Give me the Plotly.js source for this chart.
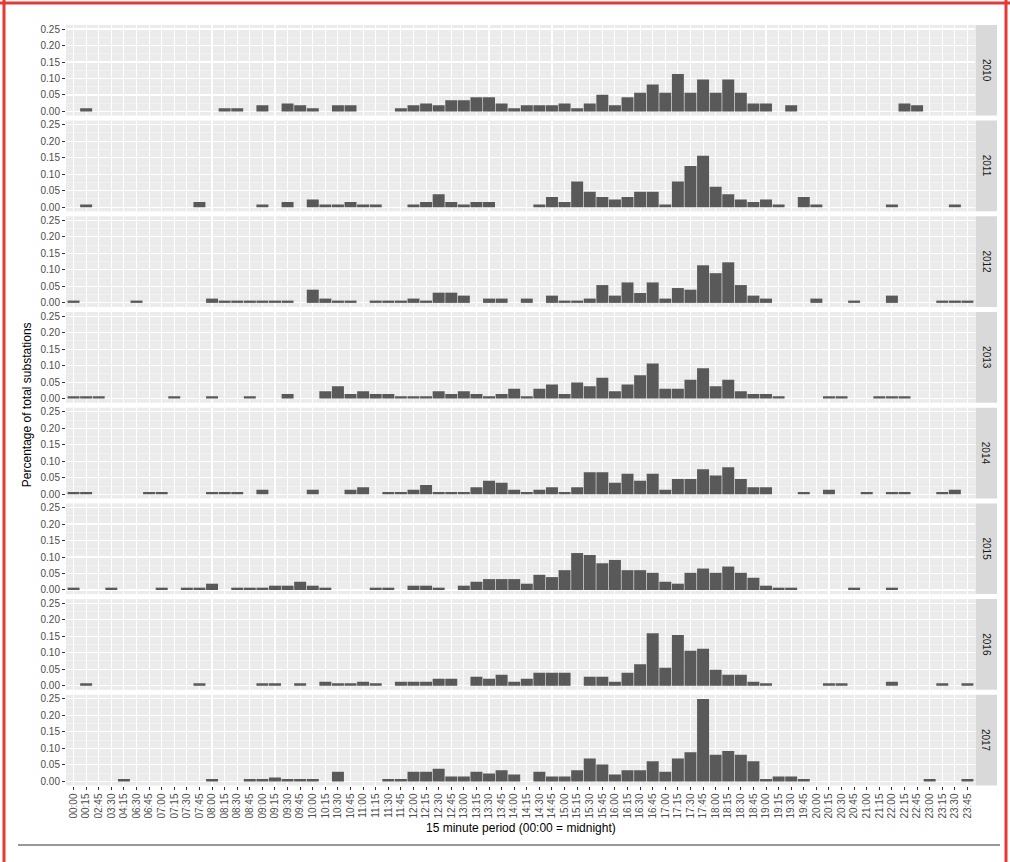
<!DOCTYPE html>
<html><head><meta charset="utf-8">
<script src="https://cdn.plot.ly/plotly-3.0.1.min.js"></script>
<style>html,body{margin:0;padding:0;background:#fff}#chart{width:1010px;height:862px}</style>
</head><body><div id="chart"></div>
<script>
const periods = [
 "00:00","00:15","02:45","03:30","04:15","06:30","06:45","07:00","07:15","07:30","07:45","08:00",
 "08:15","08:30","08:45","09:00","09:15","09:30","09:45","10:00","10:15","10:30","10:45","11:00",
 "11:15","11:30","11:45","12:00","12:15","12:30","12:45","13:00","13:15","13:30","13:45","14:00",
 "14:15","14:30","14:45","15:00","15:15","15:30","15:45","16:00","16:15","16:30","16:45","17:00",
 "17:15","17:30","17:45","18:00","18:15","18:30","18:45","19:00","19:15","19:30","19:45","20:00",
 "20:15","20:30","20:45","21:00","21:15","22:00","22:15","22:45","23:00","23:15","23:30","23:45"];
const years = ["2010","2011","2012","2013","2014","2015","2016","2017"];
const y2010 = [0,.010,0,0,0,0,0,0,0,0,0,0,
 .010,.010,0,.019,0,.024,.019,.010,0,.019,.019,0,
 0,0,.010,.019,.024,.019,.034,.034,.043,.043,.024,.010,
 .019,.019,.019,.024,.010,.024,.051,.019,.043,.057,.082,.057,
 .114,.057,.097,.057,.097,.057,.024,.024,0,.019,0,0,
 0,0,0,0,0,0,.024,.019,0,0,0,0];
const y2011 = [0,.008,0,0,0,0,0,0,0,0,.016,0,
 0,0,0,.008,0,.016,0,.023,.008,.008,.016,.008,
 .008,0,0,.008,.016,.039,.016,.008,.016,.016,0,0,
 0,.008,.031,.016,.078,.047,.031,.023,.031,.047,.047,.008,
 .078,.125,.156,.062,.039,.023,.016,.023,.008,0,.031,.008,
 0,0,0,0,0,.008,0,0,0,0,.008,0];
const y2012 = [.007,0,0,0,0,.007,0,0,0,0,0,.013,
 .007,.007,.007,.007,.007,.007,0,.040,.013,.007,.007,0,
 .007,.007,.007,.013,.007,.031,.031,.022,0,.013,.013,0,
 .013,0,.022,.007,.007,.013,.054,.022,.062,.030,.062,.013,
 .045,.040,.114,.090,.123,.054,.022,.013,0,0,0,.013,
 0,0,.007,0,0,.022,0,0,0,.007,.007,.007];
const y2013 = [.007,.007,.007,0,0,0,0,0,.007,0,0,.007,
 0,0,.007,0,0,.014,0,0,.022,.037,.014,.022,
 .014,.014,.007,.007,.007,.022,.014,.022,.014,.007,.014,.030,
 .007,.030,.043,.014,.049,.037,.063,.022,.043,.071,.106,.030,
 .030,.057,.092,.037,.057,.022,.014,.014,.007,0,0,0,
 .007,.007,0,0,.007,.007,.007,0,0,0,0,0];
const y2014 = [.007,.007,0,0,0,0,.007,.007,0,0,0,.007,
 .007,.007,0,.014,0,0,0,.014,0,0,.014,.021,
 0,.007,.007,.014,.028,.007,.007,.007,.021,.041,.035,.014,
 .007,.014,.021,.007,.021,.067,.067,.035,.062,.041,.062,.014,
 .046,.046,.076,.057,.082,.046,.021,.021,0,0,.007,0,
 .014,0,0,.007,0,.007,.007,0,0,.007,.014,0];
const y2015 = [.007,0,0,.007,0,0,0,.007,0,.007,.007,.019,
 0,.007,.007,.007,.013,.013,.025,.013,.007,0,0,0,
 .007,.007,0,.013,.013,.007,0,.013,.025,.033,.033,.033,
 .019,.046,.039,.060,.112,.106,.081,.091,.060,.060,.052,.025,
 .019,.052,.065,.052,.071,.052,.037,.013,.007,.007,0,0,
 0,0,.007,0,0,.007,0,0,0,0,0,0];
const y2016 = [0,.007,0,0,0,0,0,0,0,0,.007,0,
 0,0,0,.007,.007,0,.007,0,.012,.007,.007,.012,
 .007,0,.012,.012,.012,.021,.021,0,.027,.021,.033,.012,
 .021,.039,.039,.039,0,.027,.027,.012,.039,.065,.159,.054,
 .154,.106,.112,.048,.033,.033,.012,.007,0,0,0,0,
 .007,.007,0,0,0,.012,0,0,0,.007,0,.007];
const y2017 = [0,0,0,0,.007,0,0,0,0,0,0,.007,
 0,0,.007,.007,.012,.007,.007,.007,0,.029,0,0,
 0,.007,.007,.029,.029,.038,.015,.015,.029,.024,.034,.021,
 0,.029,.015,.015,.034,.069,.051,.021,.034,.034,.061,.029,
 .069,.088,.250,.081,.092,.081,.061,.007,.015,.015,.007,0,
 0,0,0,0,0,0,0,0,.007,0,0,.007];
const yTicks = [0, 0.05, 0.10, 0.15, 0.20, 0.25];

const series = [y2010,y2011,y2012,y2013,y2014,y2015,y2016,y2017];
const W = 1010, H = 862;
const pL = 66, pR = 975, top0 = 24.9, pitch = 95.7, pH = 90.7;
const stripR = 997;

const data = [];
const layout = {
  width: W, height: H,
  margin: {l:0, r:0, t:0, b:0},
  paper_bgcolor: '#ffffff', plot_bgcolor: '#EBEBEB',
  showlegend: false, bargap: 0.05,
  font: {family: '"Liberation Sans", Arial, sans-serif', color: '#4D4D4D'},
  annotations: [], shapes: []
};
years.forEach((yr, k) => {
  const sfx = k === 0 ? '' : String(k+1);
  data.push({
    type: 'bar', x: periods, y: series[k],
    xaxis: 'x' + sfx, yaxis: 'y' + sfx,
    marker: {color: '#595959', line: {width: 0}},
    hoverinfo: 'x+y'
  });
  const t = top0 + pitch*k, b = t + pH;
  const last = k === years.length - 1;
  layout['xaxis' + sfx] = {
    domain: [pL/W, pR/W], anchor: 'y' + sfx,
    type: 'category', categoryorder: 'array', categoryarray: periods,
    range: [-0.6, periods.length - 0.4],
    showgrid: true, gridcolor: '#ffffff', gridwidth: 1.1,
    zeroline: false, showline: false,
    showticklabels: last, ticks: last ? 'outside' : '',
    ticklen: 3, tickwidth: 1, tickcolor: '#333333',
    tickangle: -90, tickfont: {size: 10, color: '#4D4D4D'},
    dtick: 1, fixedrange: true,
    matches: k === 0 ? undefined : 'x'
  };
  layout['yaxis' + sfx] = {
    domain: [1 - b/H, 1 - t/H], anchor: 'x' + sfx,
    range: [-0.0125, 0.2625],
    tickvals: yTicks, ticktext: yTicks.map(v => v.toFixed(2)),
    showgrid: true, gridcolor: '#ffffff', gridwidth: 1.1,
    minor: {tickvals: [0.025,0.075,0.125,0.175,0.225], showgrid: true, gridcolor: '#F7F7F7', gridwidth: 0.6, ticks: ''},
    zeroline: false, showline: false,
    ticks: 'outside', ticklen: 3, tickwidth: 1, tickcolor: '#333333',
    tickfont: {size: 10, color: '#4D4D4D'}, fixedrange: true
  };
  layout.shapes.push({type: 'rect', xref: 'paper', yref: 'paper',
    x0: (pR+0.5)/W, x1: stripR/W, y0: 1 - b/H, y1: 1 - t/H,
    fillcolor: '#D9D9D9', line: {width: 0}, layer: 'below'});
  layout.annotations.push({xref: 'paper', yref: 'paper',
    x: ((pR+0.5+stripR)/2)/W, y: 1 - (t+pH/2)/H, text: yr, showarrow: false,
    textangle: 90, font: {size: 10, color: '#1A1A1A'}, xanchor: 'center', yanchor: 'middle'});
});
layout.annotations.push({xref: 'paper', yref: 'paper', x: 27/W, y: 1 - ((top0 + top0+pitch*7+pH)/2)/H,
  text: 'Percentage of total substations', showarrow: false, textangle: -90,
  font: {size: 12, color: '#000000'}, xanchor: 'center', yanchor: 'middle'});
layout.annotations.push({xref: 'paper', yref: 'paper', x: ((pL+pR)/2)/W, y: 1 - 828/H,
  text: '15 minute period (00:00 = midnight)', showarrow: false,
  font: {size: 12, color: '#000000'}, xanchor: 'center', yanchor: 'middle'});
// frame lines
layout.shapes.push({type:'line', xref:'paper', yref:'paper', x0: 4/W, x1: 4/W, y0: 0, y1: 1, line:{color:'#E53935', width:3}});
layout.shapes.push({type:'line', xref:'paper', yref:'paper', x0: 0, x1: 1, y0: 1 - 3/H, y1: 1 - 3/H, line:{color:'#E53935', width:3}});
layout.shapes.push({type:'line', xref:'paper', yref:'paper', x0: 1006/W, x1: 1006/W, y0: 0, y1: 1, line:{color:'#E53935', width:3}});
layout.shapes.push({type:'line', xref:'paper', yref:'paper', x0: 18/W, x1: 1000/W, y0: 1 - 845/H, y1: 1 - 845/H, line:{color:'#333333', width:1.2}});

Plotly.newPlot('chart', data, layout, {staticPlot: true, displayModeBar: false});
</script>
</body></html>
